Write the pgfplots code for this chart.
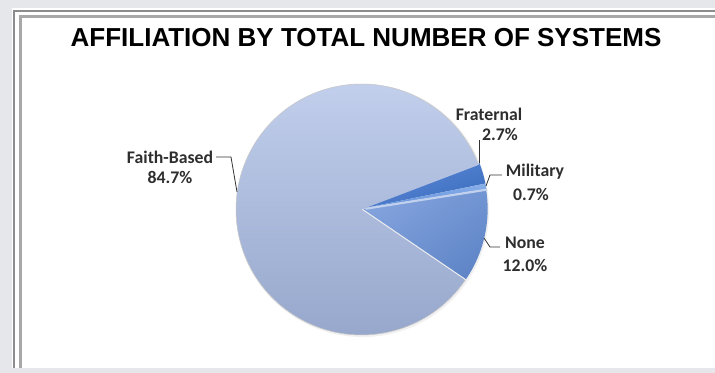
\documentclass[border=0pt]{standalone}
\usepackage{pgfplots}
\usepackage{pgfplotstable}
\pgfplotsset{compat=1.18}
\usepackage{fontspec}
\setmainfont{Carlito}
\newfontfamily\titlefont{Liberation Sans}
\definecolor{bgout}{HTML}{E6E7EA}
\definecolor{frameA}{HTML}{8C8C8C}
\definecolor{frameB}{HTML}{A8A8A8}
\definecolor{faithT}{HTML}{C4D1EE}
\definecolor{faithB}{HTML}{94A5CA}
\definecolor{noneT}{HTML}{82A2DC}
\definecolor{noneB}{HTML}{6086C8}
\definecolor{fratT}{HTML}{5A8AD6}
\definecolor{fratB}{HTML}{3C6CBE}
\definecolor{milT}{HTML}{8AB0EA}
\definecolor{milB}{HTML}{5F8ED8}
\pgfplotstableread{
label value
Fraternal 2.7
Military 0.7
None 12.0
Faith-Based 84.7
}\piedata
\begin{document}
\begin{tikzpicture}
\begin{axis}[
  x=0.75pt, y=0.75pt,
  xmin=0, xmax=715, ymin=0, ymax=373,
  hide axis, clip=false,
]
% background and frame
\fill[bgout] (axis cs:0,0) rectangle (axis cs:715,373);
\fill[white] (axis cs:12,5) rectangle (axis cs:715,365);
\fill[frameA] (axis cs:13,5) rectangle (axis cs:15,363);
\fill[frameA] (axis cs:13,361) rectangle (axis cs:715,363);
\fill[frameB] (axis cs:19,5) rectangle (axis cs:22,358);
\fill[frameB] (axis cs:19,355) rectangle (axis cs:715,358);
% title
\node[font=\titlefont\bfseries\fontsize{19.5}{21}\selectfont] at (axis cs:366,335) {AFFILIATION BY TOTAL NUMBER OF SYSTEMS};
% pie
\pgfplotsextra{
  % soft shadow
  \fill[black!6] (axis cs:362.5,162.5) circle[radius=94.9pt];
  \xdef\cur{21.2}
  \pgfplotstableforeachcolumnelement{value}\of\piedata\as\val{%
    \pgfmathsetmacro\nxt{\cur-3.6*\val}%
    \ifcase\pgfplotstablerow
      \shade[top color=fratT, bottom color=fratB, shading angle=20]
        (axis cs:362.5,164.5) -- ++(\cur:94.1pt) arc[start angle=\cur, end angle=\nxt, radius=94.1pt] -- cycle;
    \or
      \shade[top color=milT, bottom color=milB]
        (axis cs:362.5,164.5) -- ++(\cur:94.1pt) arc[start angle=\cur, end angle=\nxt, radius=94.1pt] -- cycle;
    \or
      \shade[top color=noneT, bottom color=noneB, shading angle=35]
        (axis cs:363,164) -- ++(\cur:93.5pt) arc[start angle=\cur, end angle=\nxt, radius=93.5pt] -- cycle;
      \draw[line width=1.6pt, white!50!noneT] (axis cs:366,164.3) -- ++(\cur:92pt);
    \or
      \shade[top color=faithT, bottom color=faithB]
        (axis cs:361.5,163.5) -- ++(\cur:94.1pt) arc[start angle=\cur, end angle=\nxt, radius=94.1pt] -- cycle;
      \draw[line width=0.4pt, black!22] (axis cs:361.5,163.5) ++(\cur:94.1pt) arc[start angle=\cur, end angle=\nxt, radius=94.1pt];
    \fi
    \xdef\cur{\nxt}%
  }
}
% labels
\tikzset{lbl/.style={font=\bfseries\fontsize{13.3}{15}\selectfont, text=black!82, inner sep=0pt}}
\node[lbl] at (axis cs:170,216) {Faith-Based};
\node[lbl] at (axis cs:170,196) {84.7\%};
\draw[black!80, line width=0.6pt] (axis cs:216,216) -- (axis cs:231,216) -- (axis cs:237,181);
\node[lbl] at (axis cs:489,259) {Fraternal};
\node[lbl] at (axis cs:500,239) {2.7\%};
\draw[black!80, line width=0.6pt] (axis cs:479,233) -- (axis cs:479,210);
\node[lbl] at (axis cs:535,201) {Military};
\node[lbl] at (axis cs:531,179) {0.7\%};
\draw[black!80, line width=0.6pt] (axis cs:502,198) -- (axis cs:490,198) -- (axis cs:486,187);
\node[lbl] at (axis cs:525,130) {None};
\node[lbl] at (axis cs:525,108) {12.0\%};
\draw[black!80, line width=0.6pt] (axis cs:500,126) -- (axis cs:490,126) -- (axis cs:484,135);
\end{axis}
\end{tikzpicture}
\end{document}
